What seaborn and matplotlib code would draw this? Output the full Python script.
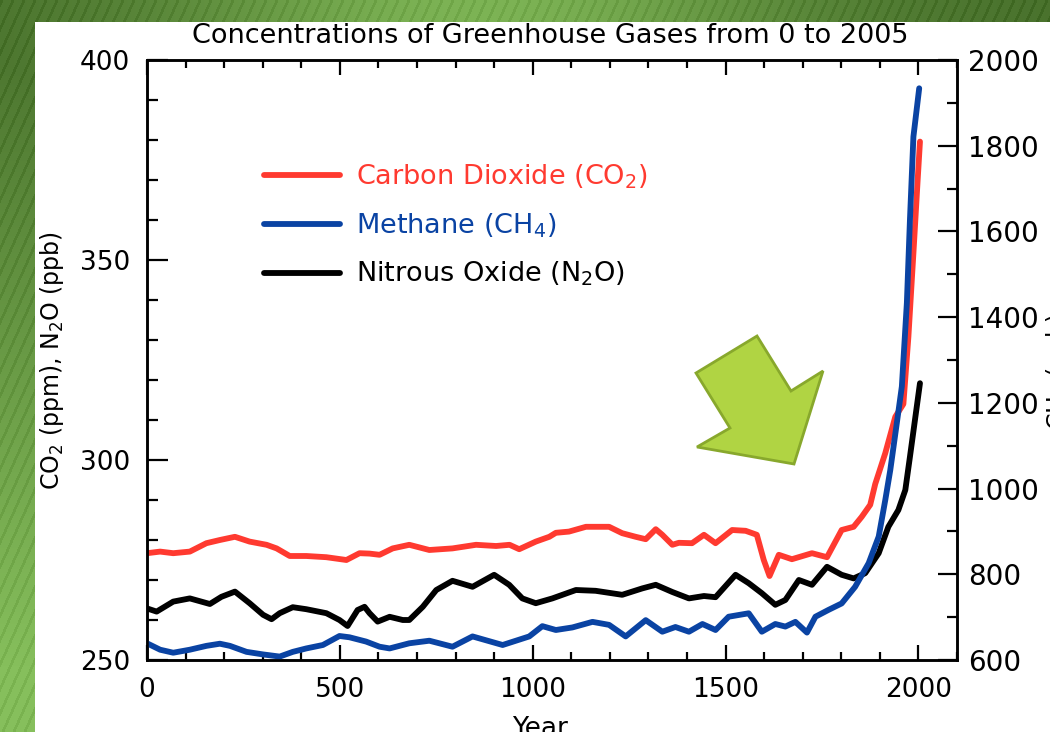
import numpy as np
import matplotlib
matplotlib.use('Agg')
import matplotlib.pyplot as plt
import seaborn as sns
from matplotlib.patches import Polygon, Rectangle
from matplotlib.lines import Line2D
from matplotlib.ticker import MultipleLocator

# Dados
anos_co2 = [0, 34, 68, 111, 154, 189, 228, 266, 310, 336, 370, 413, 465, 517, 551, 577, 603,
            637, 680, 732, 792, 853, 905, 940, 965, 1008, 1043, 1060, 1094, 1138, 1198, 1232,
            1267, 1293, 1319, 1336, 1362, 1379, 1413, 1444, 1474, 1517, 1552, 1581, 1599,
            1614, 1638, 1672, 1724, 1763, 1801, 1832, 1853, 1875, 1888, 1914, 1940, 1961,
            1974, 1987, 1998, 2004]
co2 = [276.7, 277.1, 276.7, 277.1, 279.2, 280.0, 280.8, 279.6, 278.8, 277.9, 276.0, 276.0,
       275.7, 275.0, 276.7, 276.6, 276.3, 277.9, 278.8, 277.5, 277.9, 278.8, 278.5, 278.8,
       277.7, 279.6, 280.8, 281.8, 282.1, 283.3, 283.3, 281.7, 280.8, 280.2, 282.7, 281.3,
       278.8, 279.3, 279.2, 281.3, 279.2, 282.5, 282.3, 281.3, 275.0, 271.0, 276.3, 275.2,
       276.7, 275.7, 282.5, 283.3, 285.8, 288.8, 294.0, 301.7, 310.8, 314.0, 330.8, 351.7,
       370.0, 379.6]

anos_ch4 = [0, 34, 68, 111, 154, 189, 215, 258, 301, 344, 378, 413, 456, 499, 525, 568, 603,
            629, 680, 732, 792, 844, 922, 991, 1025, 1060, 1103, 1155, 1198, 1241, 1293,
            1336, 1370, 1405, 1440, 1474, 1508, 1560, 1594, 1629, 1655, 1681, 1711, 1733,
            1767, 1801, 1836, 1871, 1897, 1914, 1927, 1944, 1957, 1970, 1978, 1987, 2002]
ch4 = [639, 624, 617, 624, 633, 638, 633, 619, 613, 608, 619, 627, 635, 656, 653, 643, 631,
       627, 639, 645, 631, 655, 635, 655, 679, 670, 676, 689, 682, 655, 693, 666, 677, 666,
       684, 670, 701, 709, 666, 684, 678, 689, 664, 701, 717, 732, 771, 826, 888, 973, 1043,
       1153, 1238, 1433, 1627, 1821, 1934]

anos_n2o = [0, 25, 68, 111, 163, 193, 228, 266, 301, 323, 344, 378, 413, 465, 499, 520, 546,
            564, 577, 598, 629, 663, 680, 715, 750, 792, 844, 900, 939, 973, 1008, 1051,
            1112, 1163, 1232, 1284, 1319, 1362, 1405, 1444, 1474, 1526, 1560, 1594, 1629,
            1655, 1690, 1724, 1763, 1801, 1832, 1862, 1897, 1922, 1948, 1966, 1978, 1991, 2004]
n2o = [262.9, 262.1, 264.6, 265.4, 264.0, 265.8, 267.1, 264.2, 261.3, 260.2, 261.7, 263.2,
       262.7, 261.7, 260.0, 258.5, 262.5, 263.3, 261.7, 259.6, 260.8, 260.0, 260.0, 263.3,
       267.5, 269.8, 268.3, 271.3, 268.8, 265.4, 264.2, 265.4, 267.5, 267.3, 266.3, 267.9,
       268.8, 267.0, 265.4, 266.0, 265.7, 271.3, 269.2, 266.7, 263.8, 265.0, 270.0, 268.8,
       273.3, 271.3, 270.4, 271.7, 276.7, 283.3, 287.5, 292.5, 300.8, 310.0, 319.2]

rotulos = ['Carbon Dioxide (CO$_2$)', 'Methane (CH$_4$)', 'Nitrous Oxide (N$_2$O)']
cores = ['#ff3a30', '#0a43a3', '#000000']

sns.set_style('white')
plt.rcParams['font.family'] = 'DejaVu Sans'
plt.rcParams['mathtext.fontset'] = 'dejavusans'
plt.rcParams['text.color'] = 'black'
plt.rcParams['axes.labelcolor'] = 'black'
plt.rcParams['xtick.color'] = 'black'
plt.rcParams['ytick.color'] = 'black'

W, H = 1050, 732
fig = plt.figure(figsize=(W / 100, H / 100), dpi=100)

# Fundo verde listrado do slide
bg = fig.add_axes([0, 0, 1, 1], zorder=-2)
yy, xx = np.mgrid[0:H, 0:W]
t = np.clip(np.maximum(yy / H * 1.1, 0.85 * np.exp(-((xx - 480) / 320.0) ** 2)), 0, 1)
escuro = np.array([0x48, 0x70, 0x2c]) / 255
claro = np.array([0x86, 0xbf, 0x5c]) / 255
img = escuro[None, None, :] * (1 - t[..., None]) + claro[None, None, :] * t[..., None]
listra = (((xx + yy * 0.45) % 11) < 3).astype(float)
img = np.clip(img - 0.05 * listra[..., None], 0, 1)
bg.imshow(img, aspect='auto', extent=[0, 1, 0, 1])
bg.axis('off')

fig.add_artist(Rectangle((35 / W, 0), 1, 1 - 22 / H, transform=fig.transFigure,
                         facecolor='white', edgecolor='none', zorder=-1))

ax = fig.add_axes([147 / W, 1 - 660 / H, 810 / W, 600 / H])
ax2 = ax.twinx()

sns.lineplot(x=anos_co2, y=co2, ax=ax, color=cores[0], lw=4.2)
sns.lineplot(x=anos_n2o, y=n2o, ax=ax, color=cores[2], lw=4.2)
sns.lineplot(x=anos_ch4, y=ch4, ax=ax2, color=cores[1], lw=4.2)

ax.set_xlim(0, 2100)
ax.set_ylim(250, 400)
ax2.set_ylim(600, 2000)
ax.xaxis.set_major_locator(MultipleLocator(500))
ax.xaxis.set_minor_locator(MultipleLocator(100))
ax.yaxis.set_major_locator(MultipleLocator(50))
ax.yaxis.set_minor_locator(MultipleLocator(10))
ax2.yaxis.set_major_locator(MultipleLocator(200))
ax2.yaxis.set_minor_locator(MultipleLocator(100))

for a in (ax, ax2):
    for s in a.spines.values():
        s.set_linewidth(1.8)
        s.set_color('black')
ax.tick_params(axis='x', which='both', direction='in', top=True, bottom=True,
               labelsize=19, pad=12, width=1.6)
ax.tick_params(axis='x', which='major', length=11)
ax.tick_params(axis='x', which='minor', length=6)
ax.tick_params(axis='y', which='both', direction='in', left=True, labelsize=19, pad=12,
               width=1.6)
ax.tick_params(axis='y', which='major', length=15)
ax.tick_params(axis='y', which='minor', length=8)
ax2.tick_params(axis='y', which='both', direction='in', right=True, labelsize=20, pad=8,
                width=1.6)
ax2.tick_params(axis='y', which='major', length=14)
ax2.tick_params(axis='y', which='minor', length=7)

ax.set_ylabel('CO$_2$ (ppm), N$_2$O (ppb)', fontsize=17, labelpad=10)
ax.set_xlabel('')
ax2.set_ylabel('')
fig.text(540 / W, 1 - 716 / H, 'Year', fontsize=19, ha='center', va='top')
fig.text(1044 / W, 360 / H, 'CH$_4$ (ppb)', fontsize=17, rotation=90, ha='left',
         va='center')
fig.text(550 / W, 1 - 36 / H, 'Concentrations of Greenhouse Gases from 0 to 2005',
         fontsize=19.5, ha='center', va='center')

handles = [Line2D([0], [0], color=c, lw=4.2) for c in cores]
ax.legend(handles=handles, labels=rotulos, loc='upper left',
          bbox_to_anchor=(93 / 810, 1 - 78 / 600), frameon=False, fontsize=19.5,
          handlelength=2.8, handletextpad=0.6, labelspacing=0.75, labelcolor=cores)

# Seta verde do slide
seta = [(696, 373), (757, 336), (791, 391), (823, 371), (794, 464), (697, 447), (730, 428)]
fig.add_artist(Polygon([(x / W, 1 - y / H) for x, y in seta], closed=True,
                       transform=fig.transFigure, facecolor='#b0d443',
                       edgecolor='#88a82c', lw=2, zorder=10))

fig.savefig('out.png', dpi=100)
